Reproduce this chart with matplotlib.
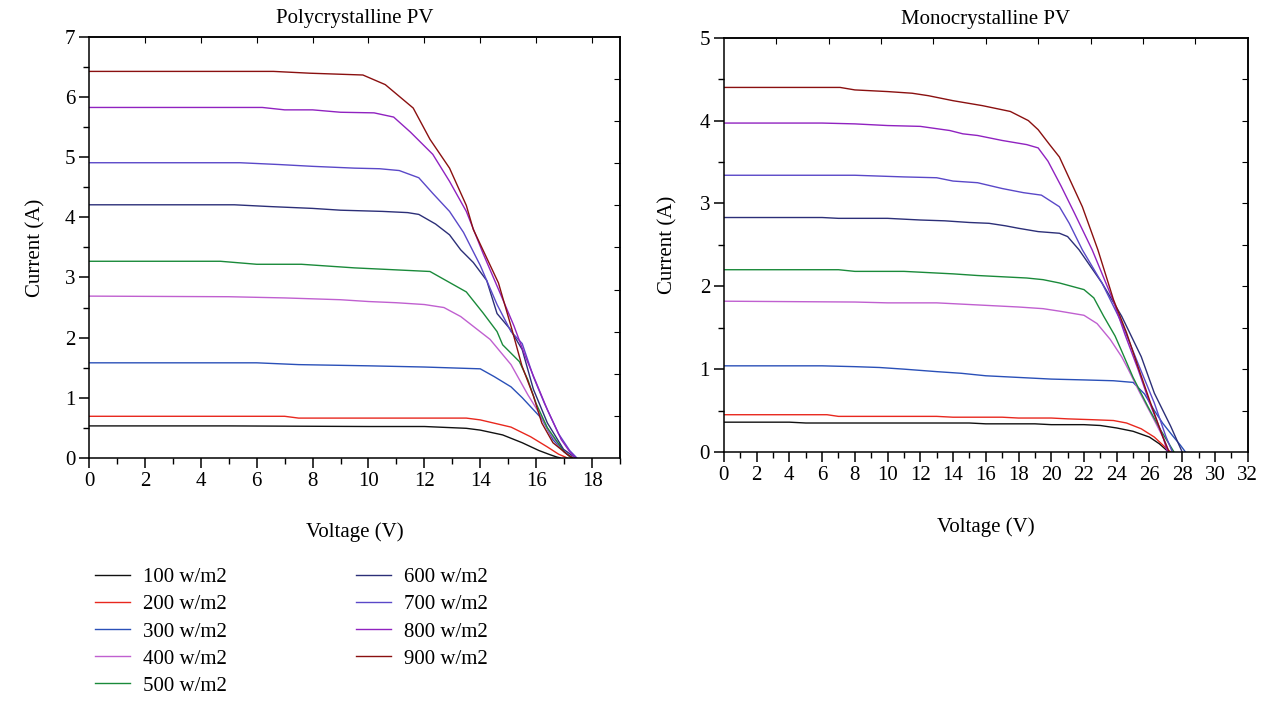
import numpy as np
import matplotlib.pyplot as plt
from matplotlib.ticker import MultipleLocator

plt.rcParams['font.family'] = ['Liberation Serif', 'DejaVu Serif']

etiquetas = ['100 w/m2', '200 w/m2', '300 w/m2', '400 w/m2', '500 w/m2',
             '600 w/m2', '700 w/m2', '800 w/m2', '900 w/m2']
colores = ['#111111', '#e8281e', '#2a50b8', '#c060d0', '#1a8a3a',
           '#2c2f78', '#5a48c8', '#9022c0', '#8a1010']

# Polycrystalline PV: voltaje (V) y corriente (A) por irradiancia
poly_v = [
    [0, 5, 10, 12, 13.5, 14.0, 14.8, 15.5, 16.1, 16.5, 16.75, 16.85],
    [0, 7, 7.5, 13.5, 14.0, 15.1, 15.8, 16.4, 16.8, 17.1],
    [0, 6, 7.5, 10, 12, 14.0, 14.5, 15.1, 15.5, 15.8, 16.2, 16.6, 17.0, 17.3],
    [0, 5, 7, 9, 10, 11, 12, 12.7, 13.3, 14.35, 15.1, 15.7, 16.1, 16.5, 17.0, 17.25],
    [0, 4.7, 6.0, 7.6, 9.5, 12.2, 13.5, 14.1, 14.6, 14.8, 15.4, 15.7, 16.0, 16.4, 17.0, 17.25],
    [0, 5.2, 6.5, 8, 9, 10.5, 11.4, 11.8, 12.4, 12.9, 13.3, 13.75, 14.23, 14.6, 15.07,
     15.5, 15.9, 16.4, 16.98, 17.4],
    [0, 5.4, 6.8, 8, 9.5, 10.4, 11.1, 11.8, 12.3, 12.9, 13.4, 14.0, 14.6, 15.1, 15.5,
     15.9, 16.3, 16.8, 17.2, 17.45],
    [0, 6.2, 7.0, 8.0, 9.0, 10.2, 10.9, 11.5, 12.3, 12.9, 13.5, 14.1, 14.7, 15.2, 15.6,
     16.0, 16.4, 16.9, 17.2, 17.4],
    [0, 6.6, 7.9, 9.8, 10.6, 11.6, 12.2, 12.9, 13.5, 13.75, 14.65, 15.13, 15.49, 15.9,
     16.2, 16.6, 17.1, 17.3],
]
poly_i = [
    [0.53, 0.53, 0.52, 0.52, 0.49, 0.46, 0.38, 0.25, 0.12, 0.05, 0.01, 0.0],
    [0.69, 0.69, 0.66, 0.66, 0.63, 0.51, 0.35, 0.18, 0.06, 0.0],
    [1.58, 1.58, 1.55, 1.53, 1.51, 1.48, 1.35, 1.18, 1.0, 0.85, 0.65, 0.3, 0.1, 0.0],
    [2.69, 2.68, 2.66, 2.63, 2.60, 2.58, 2.55, 2.50, 2.35, 1.97, 1.55, 1.05, 0.75, 0.4, 0.1, 0.0],
    [3.27, 3.27, 3.22, 3.22, 3.16, 3.10, 2.76, 2.41, 2.10, 1.88, 1.60, 1.30, 0.90, 0.50, 0.10, 0.0],
    [4.21, 4.21, 4.18, 4.15, 4.12, 4.10, 4.08, 4.05, 3.89, 3.71, 3.46, 3.25, 2.95, 2.40, 2.14,
     1.80, 1.14, 0.58, 0.14, 0.0],
    [4.91, 4.91, 4.88, 4.85, 4.82, 4.81, 4.78, 4.66, 4.40, 4.10, 3.75, 3.20, 2.55, 2.10, 1.90,
     1.35, 0.90, 0.40, 0.12, 0.0],
    [5.83, 5.83, 5.79, 5.79, 5.75, 5.74, 5.67, 5.42, 5.05, 4.60, 4.10, 3.40, 2.75, 2.20, 1.70,
     1.25, 0.80, 0.30, 0.10, 0.0],
    [6.43, 6.43, 6.40, 6.37, 6.21, 5.82, 5.30, 4.82, 4.20, 3.80, 2.91, 2.14, 1.53, 1.03,
     0.58, 0.25, 0.06, 0.0],
]

# Monocrystalline PV
mono_v = [
    [0, 4, 5, 15, 16, 19, 20, 22, 23, 24, 25, 26, 26.6, 27.0, 27.2],
    [0, 6.3, 7, 13, 14, 17, 18, 20, 21, 22.5, 23.8, 24.6, 25.5, 26.3, 27.0, 27.3],
    [0, 6, 8, 9.5, 11, 13, 14.5, 16, 18, 20, 22, 23.8, 25.0, 25.7, 26.3, 26.8, 27.4, 27.9, 28.2],
    [0, 8, 10, 13, 14, 16, 18, 19.5, 20.5, 22, 22.8, 23.6, 24.3, 24.7, 25.4, 26.2, 26.9, 27.2],
    [0, 7, 8, 11, 12, 14, 15.5, 16.5, 18.5, 19.5, 20.5, 22, 22.6, 23.2, 23.9, 24.3, 25.0,
     25.9, 26.7, 27.5],
    [0, 6, 7, 10, 11, 12, 13.5, 15, 16.2, 17.2, 18, 19.2, 20.5, 21.0, 21.7, 23.1, 24.3,
     25.5, 26.3, 27.3, 28.0],
    [0, 7, 8, 11, 13, 14, 15.5, 17, 18.3, 19.4, 20.5, 21.1, 21.9, 23.1, 24.3, 25.3, 26.3,
     27.0, 27.4],
    [0, 6, 8, 10, 12, 13.8, 14.6, 15.5, 17, 18.5, 19.2, 19.8, 20.6, 21.4, 22.5, 23.8, 24.5,
     25.3, 26.0, 26.8, 27.1],
    [0, 7.1, 8, 10, 11.5, 12.5, 14, 15.8, 17.5, 18.6, 19.2, 19.9, 20.5, 21.2, 21.9, 22.85,
     23.8, 24.6, 25.3, 26.0, 26.8, 27.2],
]
mono_i = [
    [0.36, 0.36, 0.35, 0.35, 0.34, 0.34, 0.33, 0.33, 0.32, 0.29, 0.25, 0.18, 0.10, 0.03, 0.0],
    [0.45, 0.45, 0.43, 0.43, 0.42, 0.42, 0.41, 0.41, 0.40, 0.39, 0.38, 0.35, 0.28, 0.18, 0.05, 0.0],
    [1.04, 1.04, 1.03, 1.02, 1.0, 0.97, 0.95, 0.92, 0.9, 0.88, 0.87, 0.86, 0.84, 0.70, 0.50,
     0.35, 0.20, 0.08, 0.0],
    [1.82, 1.81, 1.80, 1.80, 1.79, 1.77, 1.75, 1.73, 1.70, 1.65, 1.55, 1.36, 1.15, 1.0, 0.72,
     0.42, 0.15, 0.0],
    [2.20, 2.20, 2.18, 2.18, 2.17, 2.15, 2.13, 2.12, 2.10, 2.08, 2.04, 1.96, 1.86, 1.64, 1.40,
     1.22, 0.90, 0.55, 0.26, 0.0],
    [2.83, 2.83, 2.82, 2.82, 2.81, 2.80, 2.79, 2.77, 2.76, 2.73, 2.70, 2.66, 2.64, 2.60, 2.44,
     2.04, 1.64, 1.15, 0.71, 0.31, 0.0],
    [3.34, 3.34, 3.34, 3.32, 3.31, 3.27, 3.25, 3.18, 3.13, 3.10, 2.96, 2.76, 2.44, 2.04, 1.56,
     1.07, 0.59, 0.19, 0.0],
    [3.97, 3.97, 3.96, 3.94, 3.93, 3.88, 3.84, 3.82, 3.76, 3.71, 3.67, 3.51, 3.21, 2.89, 2.44,
     1.82, 1.42, 1.0, 0.6, 0.2, 0.0],
    [4.40, 4.40, 4.37, 4.35, 4.33, 4.30, 4.24, 4.18, 4.11, 4.0, 3.89, 3.71, 3.56, 3.26, 2.96,
     2.44, 1.84, 1.44, 1.03, 0.63, 0.19, 0.0],
]

fig = plt.figure(figsize=(12.7, 7.01), dpi=100)
ax1 = fig.add_axes([0.0701, 0.347, 0.4181, 0.600])
ax2 = fig.add_axes([0.570, 0.3552, 0.4124, 0.591])


def estilo(ax, xmax, ymax, xtop, yright, titulo, ylabpad):
    ax.set_xlim(0, xmax)
    ax.set_ylim(0, ymax)
    ax.xaxis.set_major_locator(MultipleLocator(2))
    ax.xaxis.set_minor_locator(MultipleLocator(1))
    ax.yaxis.set_major_locator(MultipleLocator(1))
    ax.yaxis.set_minor_locator(MultipleLocator(0.5))
    ax.tick_params(which='major', direction='out', length=7, width=1.1,
                   labelsize=15, pad=3)
    ax.tick_params(which='minor', direction='out', length=4, width=1.0)
    for s in ax.spines.values():
        s.set_linewidth(1.1)
    top = ax.secondary_xaxis('top')
    top.set_xticks(np.arange(xtop, xmax, xtop))
    top.tick_params(direction='in', length=4, labeltop=False)
    top.spines['top'].set_linewidth(1.1)
    der = ax.secondary_yaxis('right')
    der.set_yticks(np.arange(yright, ymax, yright))
    der.tick_params(direction='in', length=4, labelright=False)
    der.spines['right'].set_linewidth(1.1)
    ax.set_title(titulo, fontsize=15, pad=10)
    ax.set_xlabel('Voltage (V)', fontsize=15, labelpad=23)
    ax.set_ylabel('Current (A)', fontsize=15, labelpad=ylabpad)


for v, i, c, lab in zip(poly_v, poly_i, colores, etiquetas):
    ax1.plot(v, i, color=c, lw=1.0, label=lab)
for v, i, c in zip(mono_v, mono_i, colores):
    ax2.plot(v, i, color=c, lw=1.0)

estilo(ax1, 19, 7, 2, 0.7, 'Polycrystalline PV', 14)
estilo(ax2, 32, 5, 3.2, 0.5, 'Monocrystalline PV', 16)

fig.legend(loc='upper left', bbox_to_anchor=(0.0748, 0.19), ncol=2,
           frameon=False, fontsize=15, handlelength=1.7, handletextpad=0.6,
           labelspacing=0.36, columnspacing=6.2, borderpad=0, borderaxespad=0)

plt.savefig('out.png', dpi=100)
